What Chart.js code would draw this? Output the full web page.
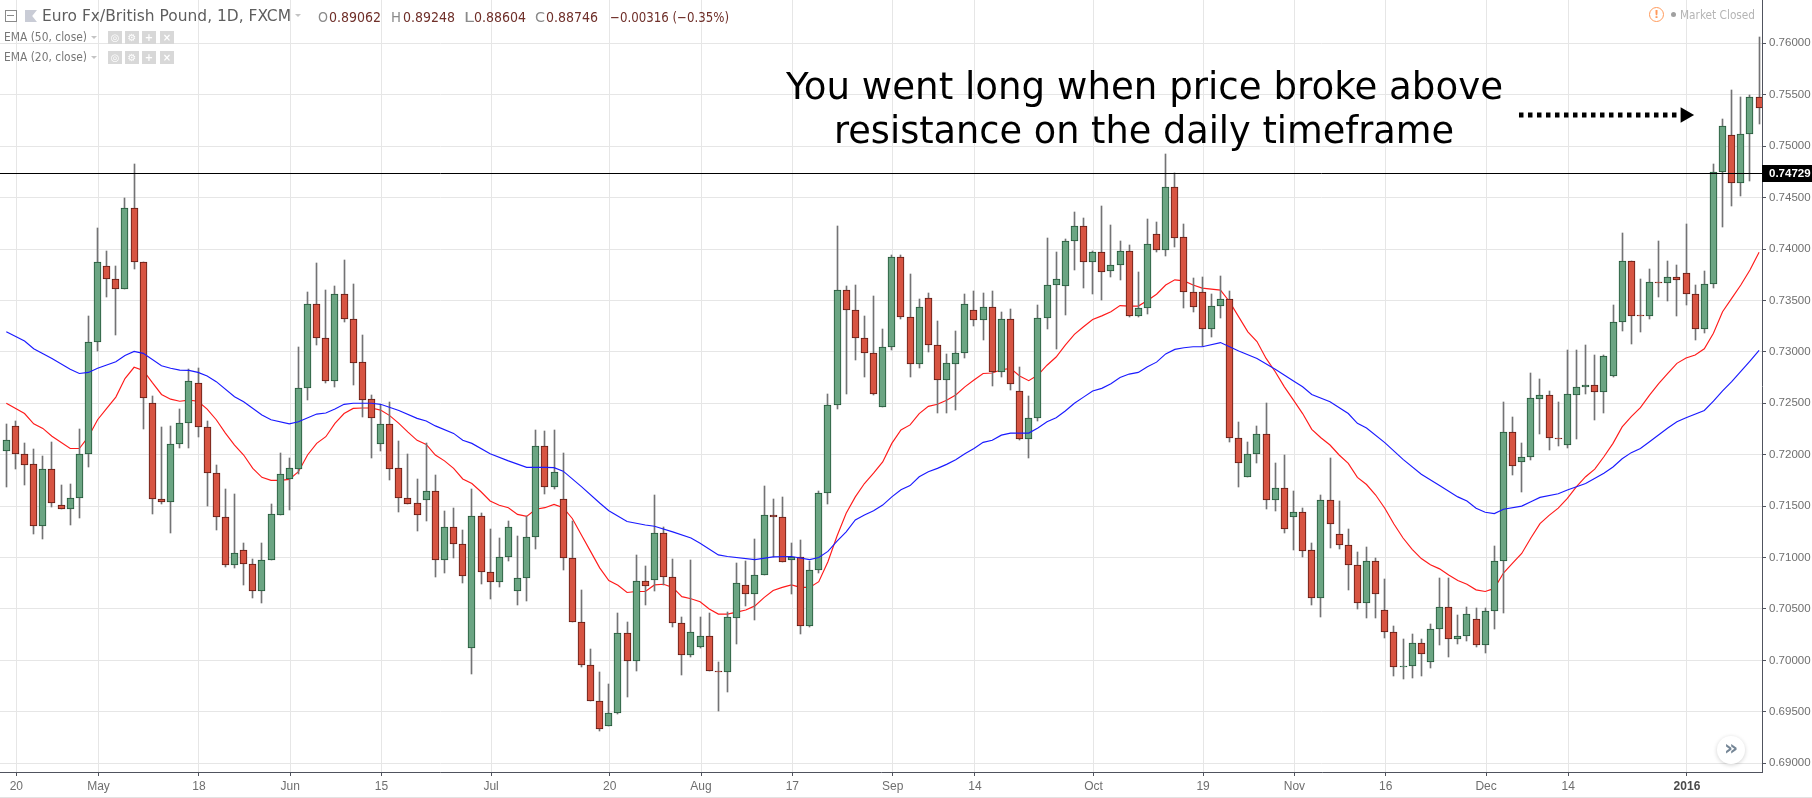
<!DOCTYPE html>
<html><head><meta charset="utf-8">
<script src="https://cdn.jsdelivr.net/npm/chart.js@4"></script>
<style>
html,body{margin:0;padding:0;background:#fff;overflow:hidden}
#wrap{position:relative;width:1812px;height:798px;overflow:hidden}
canvas{position:absolute;left:0;top:0}
.t{position:absolute;white-space:nowrap;transform-origin:0 0;line-height:1;font-family:"DejaVu Sans",sans-serif}
.b{position:absolute;width:14px;height:13px;background:#d8d8d8;color:#fff;font:bold 10px/13px "DejaVu Sans";text-align:center}
.tri{position:absolute;width:0;height:0;border-left:3px solid transparent;border-right:3px solid transparent;border-top:3px solid #c4c4c4}
</style></head><body>
<div id="wrap"><canvas id="c" width="1812" height="798"></canvas></div>
<script>
const open=[.7204,.7228,.7201,.7191,.7131,.7186,.7151,.7147,.7158,.7201,
.7310,.7383,.7371,.7361,.7440,.7387,.7250,.7157,.7154,.7210,
.7231,.7270,.7227,.7182,.7139,.7093,.7107,.7094,.7067,.7098,
.7141,.7176,.7186,.7265,.7347,.7313,.7272,.7356,.7332,.7290,
.7254,.7210,.7230,.7187,.7158,.7153,.7156,.7165,.7098,.7130,
.7113,.7012,.7140,.7086,.7076,.7101,.7067,.7080,.7120,.7208,
.7169,.7157,.7100,.7037,.6996,.6961,.6936,.6949,.7027,.6999,
.7077,.7078,.7124,.7081,.7036,.7005,.7013,.7024,.6990,.6989,
.7041,.7073,.7065,.7083,.7141,.7139,.7098,.7101,.7033,.7088,
.7163,.7248,.7360,.7341,.7313,.7299,.7246,.7305,.7392,.7334,
.7288,.7352,.7307,.7273,.7288,.7299,.7341,.7331,.7344,.7280,
.7332,.7262,.7215,.7236,.7333,.7365,.7364,.7408,.7422,.7387,
.7397,.7379,.7384,.7398,.7335,.7343,.7415,.7399,.7460,.7412,
.7358,.7358,.7322,.7345,.7351,.7216,.7178,.7201,.7220,.7156,
.7168,.7139,.7144,.7107,.7061,.7156,.7123,.7112,.7093,.7056,
.7097,.7049,.7028,.6994,.6995,.7017,.6998,.7031,.7052,.7021,
.7024,.7040,.7015,.7048,.7097,.7222,.7193,.7198,.7254,.7258,
.7216,.7209,.7258,.7266,.7268,.7261,.7277,.7329,.7388,.7336,
.7335,.7368,.7367,.7373,.7377,.7356,.7322,.7366,.7475,.7511,
.7464,.7512,.7548];
const close=[.7214,.7201,.7190,.7131,.7186,.7153,.7147,.7158,.7201,.7310,
.7387,.7371,.7361,.7440,.7387,.7255,.7157,.7154,.7210,.7231,
.7272,.7227,.7182,.7139,.7093,.7104,.7094,.7067,.7098,.7142,
.7181,.7187,.7265,.7347,.7313,.7272,.7356,.7332,.7289,.7253,
.7236,.7230,.7186,.7158,.7152,.7141,.7165,.7098,.7130,.7113,
.7082,.7140,.7086,.7076,.7101,.7130,.7080,.7120,.7208,.7169,
.7183,.7100,.7037,.6996,.6961,.6933,.6949,.7027,.6999,.7077,
.7072,.7124,.7081,.7036,.7005,.7028,.7024,.6990,.6989,.7042,
.7075,.7065,.7083,.7141,.7139,.7096,.7101,.7033,.7088,.7163,
.7248,.7360,.7341,.7313,.7299,.7259,.7305,.7392,.7334,.7288,
.7344,.7307,.7273,.7289,.7299,.7347,.7331,.7344,.7280,.7332,
.7269,.7215,.7236,.7333,.7365,.7371,.7408,.7422,.7387,.7397,
.7378,.7384,.7398,.7335,.7343,.7405,.7399,.7460,.7411,.7358,
.7344,.7322,.7345,.7351,.7216,.7192,.7201,.7220,.7156,.7168,
.7128,.7144,.7106,.7061,.7156,.7133,.7112,.7093,.7056,.7097,
.7065,.7028,.6994,.6995,.7017,.7006,.7031,.7052,.7021,.7024,
.7045,.7015,.7048,.7097,.7222,.7189,.7198,.7255,.7258,.7216,
.7215,.7259,.7266,.7268,.7261,.7296,.7329,.7388,.7335,.7335,
.7368,.7367,.7373,.7370,.7356,.7322,.7366,.7475,.7520,.7464,
.7512,.7548,.7537];
const high=[.7230,.7233,.7211,.7206,.7199,.7212,.7171,.7172,.7225,.7335,
.7420,.7398,.7383,.7450,.7483,.7387,.7257,.7227,.7228,.7244,
.7283,.7284,.7233,.7190,.7167,.7162,.7114,.7099,.7114,.7152,
.7202,.7197,.7305,.7358,.7386,.7360,.7364,.7389,.7366,.7316,
.7258,.7248,.7251,.7213,.7201,.7176,.7211,.7180,.7145,.7148,
.7127,.7167,.7143,.7128,.7119,.7136,.7121,.7140,.7224,.7223,
.7224,.7202,.7136,.7068,.7011,.6989,.6977,.7046,.7037,.7102,
.7092,.7161,.7130,.7099,.7042,.7098,.7042,.7046,.6998,.7047,
.7095,.7097,.7118,.7170,.7157,.7159,.7114,.7117,.7097,.7165,
.7259,.7422,.7364,.7365,.7335,.7354,.7322,.7394,.7394,.7376,
.7351,.7357,.7330,.7298,.7320,.7356,.7359,.7357,.7359,.7339,
.7342,.7285,.7257,.7346,.7411,.7397,.7410,.7436,.7430,.7398,
.7442,.7423,.7408,.7404,.7378,.7429,.7426,.7492,.7474,.7424,
.7372,.7373,.7356,.7374,.7359,.7232,.7212,.7228,.7250,.7192,
.7200,.7165,.7148,.7114,.7161,.7197,.7155,.7128,.7105,.7110,
.7100,.7079,.7033,.7021,.7026,.7021,.7035,.7080,.7080,.7044,
.7052,.7051,.7051,.7111,.7251,.7237,.7211,.7279,.7274,.7262,
.7251,.7302,.7302,.7307,.7297,.7297,.7346,.7416,.7388,.7371,
.7381,.7408,.7388,.7384,.7424,.7365,.7379,.7483,.7526,.7555,
.7548,.7550,.7606];
const low=[.7169,.7186,.7171,.7123,.7118,.7149,.7147,.7132,.7138,.7188,
.7301,.7353,.7316,.7361,.7381,.7225,.7142,.7152,.7124,.7207,
.7207,.7217,.7150,.7127,.7091,.7090,.7073,.7061,.7056,.7098,
.7141,.7146,.7181,.7253,.7307,.7270,.7266,.7329,.7268,.7237,
.7197,.7204,.7175,.7144,.7152,.7126,.7136,.7081,.7085,.7100,
.7075,.6987,.7074,.7060,.7071,.7097,.7054,.7058,.7108,.7162,
.7167,.7088,.7037,.6994,.6961,.6931,.6936,.6948,.6964,.6990,
.7054,.7067,.7073,.7032,.6986,.7003,.7012,.6990,.6951,.6969,
.7016,.7053,.7039,.7083,.7101,.7096,.7065,.7026,.7032,.7085,
.7152,.7244,.7259,.7292,.7276,.7258,.7246,.7302,.7332,.7276,
.7284,.7300,.7241,.7241,.7243,.7294,.7325,.7312,.7267,.7276,
.7263,.7214,.7197,.7233,.7322,.7303,.7336,.7380,.7362,.7356,
.7350,.7373,.7370,.7334,.7334,.7337,.7397,.7393,.7402,.7343,
.7339,.7306,.7314,.7333,.7212,.7169,.7178,.7192,.7147,.7145,
.7124,.7107,.7101,.7054,.7042,.7109,.7108,.7068,.7050,.7041,
.7041,.7022,.6985,.6982,.6983,.6985,.6993,.7015,.7003,.7016,
.7019,.7013,.7007,.7031,.7046,.7180,.7164,.7195,.7220,.7205,
.7208,.7207,.7215,.7259,.7234,.7241,.7276,.7320,.7308,.7319,
.7332,.7353,.7349,.7335,.7346,.7312,.7318,.7362,.7421,.7442,
.7452,.7466,.7522];
const ema50Day=[0,2,3,5,7,8,9,10,12,13,14,15,17,18,19,20,21,22,23,25,26,28,29,31,32,34,35,36,37,38,40,41,43,45,46,47,49,50,51,53,55,57,59,60,61,63,65,66,68,70,71,73,75,76,78,79,82,84,86,88,89,90,91,92,93,94,95,96,97,98,99,100,101,102,103,104,105,106,107,108,109,110,111,112,113,114,115,116,117,118,119,120,121,122,123,124,125,126,127,128,129,130,131,133,135,137,139,141,142,143,145,147,148,149,151,153,155,157,159,160,161,162,163,164,166,167,168,170,171,173,175,176,177,178,179,180,182,183,184,186,187,188,189,190,191,192];
const ema50=[.73196,.73105,.7303,.72936,.7283,.7279,.7280,.7284,.72904,.72965,.73004,.72985,.72865,.7284,.72823,.7282,.7280,.72765,.7271,.72564,.72515,.72386,.7234,.7230,.7232,.72395,.72405,.72444,.7249,.7250,.7250,.7249,.7243,.72353,.72327,.7228,.72207,.7214,.7211,.7201,.7194,.71877,.71877,.71874,.7184,.7169,.7153,.71456,.7135,.71316,.71304,.7125,.7119,.7114,.71026,.7101,.7098,.71006,.7101,.7098,.7100,.7106,.7116,.7125,.71365,.71414,.71456,.7151,.7159,.7166,.7170,.71786,.71835,.71867,.71906,.7195,.7201,.7206,.7212,.7214,.7219,.7221,.7221,.7221,.7226,.7232,.7236,.72425,.7250,.7256,.7262,.72645,.7269,.7275,.72784,.7280,.72855,.7290,.7298,.73024,.7304,.7305,.7305,.7309,.73008,.72936,.7283,.72716,.7266,.72586,.72515,.7240,.72305,.7226,.72117,.71955,.7181,.7170,.7159,.7155,.7148,.7144,.71427,.7147,.7150,.71543,.71585,.7162,.71657,.7172,.7182,.7188,.7196,.7202,.7206,.72126,.7226,.7232,.7236,.7243,.7252,.7262,.7271,.7281,.7291,.73014];
const ema20Day=[0,2,3,4,5,7,8,9,10,11,12,13,14,15,16,17,18,19,20,21,22,23,24,25,26,27,28,29,30,31,32,33,34,35,36,37,38,39,40,41,42,43,44,45,46,47,48,49,50,51,52,53,54,55,56,57,58,59,60,61,62,63,64,65,66,67,68,69,70,71,72,73,74,75,76,77,78,79,80,81,82,83,84,85,86,87,88,89,90,91,92,93,94,95,96,97,98,99,100,101,102,103,104,105,106,107,108,109,110,111,112,113,114,115,116,117,118,119,120,121,122,123,124,125,126,127,128,129,130,131,133,134,135,136,137,138,139,140,141,142,143,144,145,146,147,148,149,150,151,152,153,154,155,156,157,158,159,160,161,162,163,164,165,166,167,168,169,170,171,172,173,174,175,176,177,178,179,180,181,182,183,184,185,186,187,188,189,190,191,192];
const ema20=[.7250,.7240,.7230,.72256,.7218,.7206,.7206,.72175,.7234,.7245,.7256,.7274,.7285,.7282,.7270,.72586,.7254,.7252,.7253,.7252,.72444,.7234,.7221,.72094,.71997,.71867,.7178,.7175,.7175,.7176,.71835,.71997,.7211,.72175,.72305,.7240,.7245,.72454,.72454,.72434,.7238,.72305,.7222,.7214,.7210,.71997,.7194,.71867,.71764,.7172,.7164,.7155,.71508,.71485,.7142,.7140,.7147,.71485,.71517,.71485,.7138,.7122,.7106,.7090,.70776,.7073,.7066,.7067,.7067,.70734,.7074,.7071,.7062,.7060,.7057,.7050,.7045,.7045,.7047,.7049,.7053,.7061,.7068,.7071,.70734,.7071,.7071,.70766,.7096,.7121,.7143,.7159,.7172,.7182,.7193,.7211,.7224,.7229,.7240,.7247,.7249,.7253,.7258,.7266,.72726,.7279,.72794,.72826,.7284,.72765,.7272,.72774,.7287,.7295,.73066,.7317,.73244,.73315,.7335,.7339,.7345,.73445,.73445,.7350,.7356,.7365,.7370,.7369,.7365,.7362,.7360,.73487,.7334,.73195,.7310,.72936,.72807,.7266,.7253,.7240,.72246,.72165,.72094,.71997,.71916,.7178,.7171,.71608,.7148,.71326,.7119,.7108,.7099,.7093,.7089,.7083,.70776,.7074,.70686,.7067,.7070,.7085,.70945,.7104,.7119,.7133,.7141,.7148,.71576,.7169,.71786,.7186,.7198,.7211,.7227,.7237,.72457,.7258,.7269,.7279,.72888,.7294,.7297,.7303,.7318,.7339,.7352,.7365,.73795,.73968];
const priceTicks=[.76,.755,.75,.745,.74,.735,.73,.725,.72,.715,.71,.705,.70,.695,.69];
const dateTickDay=[1,10,21,31,41,53,66,76,86,97,106,119,131,141,151,162,171,184];
const dateTickLabels=["20","May","18","Jun","15","Jul","20","Aug","17","Sep","14","Oct","19","Nov","16","Dec","14","2016"];
const resistance=.74729;
const arrowDay=[165.7,183.9], arrowPrice=[.75303,.75303];

const X_MIN=-0.69,X_MAX=192.32,TICK_SHIFT=.1;
const days=open.map((_,i)=>i);
const up=days.map(i=>close[i]>=open[i]);
const UPF='#6ba583',DNF='#d75442',UPB='#225437',DNB='#5b1a13',WICK='#737375',AX='#50535e',GR='#e6e6e6';
const snap={id:'snap',beforeDatasetDraw(ch,a){
  const m=ch.getDatasetMeta(a.index);
  if(m.type==='bar')m.data.forEach(e=>{e.x=Math.floor(e.x)+.5;e.y=Math.round(e.y);e.base=Math.round(e.base);});
  else if(m.controller.getDataset().crisp)m.data.forEach(e=>{e.y=Math.round(e.y)-.5;});
}};
const tag={id:'tag',afterDraw(ch){
  const s=ch.scales.y,y=Math.round(s.getPixelForValue(resistance))-.5,c=ch.ctx;
  c.save();c.fillStyle='#000';c.fillRect(s.left,y-8.5,s.width,17);
  c.fillStyle='#fff';c.font='bold 11.5px "Liberation Sans"';c.textBaseline='middle';c.textAlign='left';
  c.fillText(resistance.toFixed(5),s.left+7,y+.5);c.restore();
}};
new Chart(document.getElementById('c'),{
 type:'bar',
 data:{datasets:[
  {type:'line',data:ema20Day.map((d,i)=>({x:d,y:ema20[i]})),borderColor:'#ff1a1a',borderWidth:1.15,pointRadius:0,tension:0,order:5},
  {data:days.map(i=>({x:i,y:[low[i],high[i]]})),backgroundColor:WICK,borderWidth:0,barThickness:1,grouped:false,order:4},
  {data:days.map(i=>({x:i,y:[open[i],close[i]]})),backgroundColor:days.map(i=>up[i]?UPF:DNF),borderColor:days.map(i=>up[i]?UPB:DNB),borderWidth:1,borderSkipped:false,barThickness:7,grouped:false,order:3},
  {type:'line',data:ema50Day.map((d,i)=>({x:d,y:ema50[i]})),borderColor:'#1a1aff',borderWidth:1.15,pointRadius:0,tension:0,order:2},
  {type:'line',crisp:true,data:[{x:X_MIN,y:resistance},{x:X_MAX,y:resistance}],borderColor:'#000',borderWidth:1,pointRadius:0,order:1},
  {type:'line',data:arrowDay.map((d,i)=>({x:d,y:arrowPrice[i]})),borderColor:'#000',borderWidth:5,borderDash:[4.5,4.5],pointStyle:'triangle',pointRotation:90,pointRadius:[0,9],pointBackgroundColor:'#000',pointBorderWidth:0,order:0}
 ]},
 options:{responsive:false,animation:false,devicePixelRatio:1,events:[],
  layout:{padding:0,autoPadding:false},
  plugins:{legend:{display:false},tooltip:{enabled:false}},
  scales:{
   x:{type:'linear',offset:false,min:X_MIN,max:X_MAX,
    afterBuildTicks(a){a.ticks=dateTickDay.map(v=>({value:v+TICK_SHIFT}));},
    afterFit(a){a.height=26;a.paddingLeft=0;a.paddingRight=0;},
    grid:{offset:false,color:GR,tickColor:AX,tickLength:4,lineWidth:1},
    border:{color:AX,width:1},
    ticks:{autoSkip:false,maxRotation:0,padding:3,
      color:c=>dateTickLabels[c.index]==='2016'?'#4a4a4a':'#6f6f6f',
      font:c=>({family:'"Liberation Sans"',size:12,weight:dateTickLabels[c.index]==='2016'?'bold':'normal'}),
      callback:(v,i)=>dateTickLabels[i]}},
   y:{position:'right',min:.68915,max:.76421,
    afterBuildTicks(a){a.ticks=priceTicks.map(v=>({value:v}));},
    afterFit(a){a.width=50;a.paddingTop=0;a.paddingBottom=0;},
    grid:{color:GR,tickColor:AX,tickLength:4,lineWidth:1},
    border:{color:AX,width:1},
    ticks:{autoSkip:false,padding:3,color:'#6f6f6f',font:{family:'"Liberation Sans"',size:11.5},callback:v=>v.toFixed(5)}}
  }},
 plugins:[snap,tag]
});
</script>
<script>
const W=document.getElementById('wrap');
function txt(s,x,y,size,col,target,extra){const d=document.createElement('div');d.className='t';d.textContent=s;d.style.cssText+=`left:${x}px;top:${y}px;font-size:${size}px;color:${col};${extra||''}`;W.appendChild(d);
  if(target){const w=d.getBoundingClientRect().width;d.style.transform=`scaleX(${target/w})`;}return d;}
function box(css){const d=document.createElement('div');d.style.cssText='position:absolute;'+css;W.appendChild(d);return d;}
const GRAY='#8a8a8a',DARK='#5e5e5e',VAL='#6f2f29';
box('left:5px;top:10px;width:10px;height:10px;border:1px solid #8a8a8a');box('left:7px;top:15px;width:7px;height:1px;background:#8a8a8a');
box('left:25px;top:10px;width:12px;height:12px;background:#c9ccd6;clip-path:polygon(0 0,100% 0,60% 50%,100% 100%,0 100%)');
txt('Euro Fx/British Pound, 1D, FXCM',42,9,15,DARK,249);
[[295,14]].forEach(p=>{const t=document.createElement('div');t.className='tri';t.style.left=p[0]+'px';t.style.top=p[1]+'px';W.appendChild(t);});
const hdr=[['O',318,'0.89062',329,52],['H',391,'0.89248',403,52],['L',464,'0.88604',474,52],['C',535,'0.88746',546,52]];
hdr.forEach(h=>{txt(h[0],h[1],10,14,GRAY,10);txt(h[2],h[3],10,14,VAL,h[4]);});
txt('\u22120.00316 (\u22120.35%)',610,10,14,VAL,119);
[['EMA (50, close)',31],['EMA (20, close)',51]].forEach(e=>{txt(e[0],4,e[1],12,'#777',83);
  const t=document.createElement('div');t.className='tri';t.style.left='91px';t.style.top=(e[1]+5)+'px';W.appendChild(t);
  [[108,'\u25CE'],[125,'\u2699'],[142,'+'],[160,'\u00D7']].forEach(b=>{const d=document.createElement('div');d.className='b';d.style.left=b[0]+'px';d.style.top=e[1]+'px';d.textContent=b[1];W.appendChild(d);});});
txt('You went long when price broke above',786,68,37,'#000',717);
txt('resistance on the daily timeframe',834,112,37,'#000',620);
box('left:1649px;top:7px;width:13px;height:13px;border:1.5px solid #ff9a5b;border-radius:50%;color:#ff9a5b;font:bold 11px/13px "DejaVu Sans";text-align:center').textContent='!';
box('left:1671px;top:12px;width:5px;height:5px;border-radius:50%;background:#a0a0a0');
txt('Market Closed',1680,9,12,'#b5b5b5',75);
box('left:1717px;top:736px;width:28px;height:28px;border-radius:50%;background:#fff;box-shadow:0 1px 4px rgba(0,0,0,.18);color:#758696;font:bold 22px/24px "DejaVu Sans";text-align:center').textContent='\u00BB';
box('left:0;top:797px;width:1812px;height:1px;background:#e3e3e3');
</script>
</body></html>
